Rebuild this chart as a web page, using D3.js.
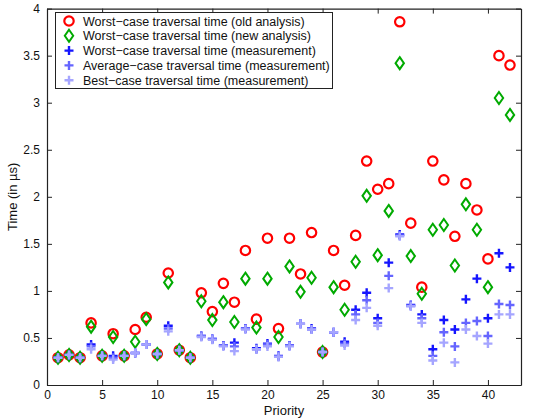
<!DOCTYPE html>
<html>
<head>
<meta charset="utf-8">
<script src="https://cdn.jsdelivr.net/npm/d3@7"></script>
<style>
  body { margin: 0; background: #fff; }
  svg text { font-family: "Liberation Sans", Arial, sans-serif; fill: #111; }
</style>
</head>
<body>
<div id="chart"></div>
<script>
// priorities 1..42
const priorities = d3.range(1, 43);

const oldAnalysis = [0.29, 0.32, 0.29, 0.66, 0.31, 0.545, 0.31, 0.59, 0.72, 0.33,
  1.19, 0.37, 0.29, 0.98, 0.78, 1.08, 0.88, 1.43, 0.70, 1.56,
  0.60, 1.56, 1.18, 1.62, 0.35, 1.43, 1.06, 1.59, 2.38, 2.08,
  2.14, 3.86, 1.72, 1.04, 2.38, 2.18, 1.58, 2.14, 1.86, 1.34,
  3.50, 3.40];

const newAnalysis = [0.29, 0.32, 0.29, 0.62, 0.31, 0.51, 0.31, 0.46, 0.70, 0.33,
  1.09, 0.37, 0.29, 0.89, 0.69, 0.88, 0.67, 1.13, 0.61, 1.13,
  0.51, 1.26, 0.99, 1.14, 0.35, 1.04, 0.80, 1.31, 2.01, 1.38,
  1.85, 3.42, 1.37, 0.97, 1.65, 1.70, 1.27, 1.92, 1.65, 1.04,
  3.05, 2.87];

const worstMeas = [0.29, 0.32, 0.29, 0.43, 0.31, 0.31, 0.31, 0.34, 0.43, 0.33,
  0.63, 0.37, 0.29, 0.52, 0.49, 0.42, 0.45, 0.60, 0.39, 0.44,
  0.31, 0.42, 0.65, 0.60, 0.35, 0.56, 0.46, 0.80, 0.98, 0.71,
  1.30, 1.60, 0.85, 0.75, 0.38, 0.69, 0.59, 0.91, 1.13, 0.71,
  1.40, 1.25];

const avgMeas = [0.29, 0.32, 0.29, 0.41, 0.31, 0.29, 0.31, 0.34, 0.43, 0.33,
  0.60, 0.37, 0.29, 0.52, 0.49, 0.42, 0.41, 0.60, 0.38, 0.43,
  0.30, 0.42, 0.65, 0.59, 0.35, 0.56, 0.44, 0.75, 0.90, 0.66,
  1.16, 1.59, 0.84, 0.71, 0.31, 0.56, 0.41, 0.66, 0.68, 0.52,
  0.86, 0.85];

const bestMeas = [0.29, 0.32, 0.29, 0.38, 0.31, 0.27, 0.31, 0.34, 0.43, 0.33,
  0.57, 0.37, 0.29, 0.51, 0.48, 0.41, 0.36, 0.59, 0.38, 0.41,
  0.30, 0.41, 0.65, 0.59, 0.35, 0.56, 0.42, 0.69, 0.82, 0.63,
  1.03, 1.58, 0.84, 0.66, 0.26, 0.45, 0.24, 0.59, 0.52, 0.44,
  0.75, 0.75];

const xTicks = [0, 5, 10, 15, 20, 25, 30, 35, 40];
const yTicks = [0, 0.5, 1, 1.5, 2, 2.5, 3, 3.5, 4];

const series = [
  { name: 'Worst\u2212case traversal time (old analysis)', values: oldAnalysis, shape: 'circle', color: '#ff0000' },
  { name: 'Worst\u2212case traversal time (new analysis)', values: newAnalysis, shape: 'diamond', color: '#00aa00' },
  { name: 'Worst\u2212case traversal time (measurement)', values: worstMeas, shape: 'plus', color: '#1515ff' },
  { name: 'Average\u2212case traversal time (measurement)', values: avgMeas, shape: 'plus', color: '#6565ff' },
  { name: 'Best\u2212case traversal time (measurement)', values: bestMeas, shape: 'plus', color: '#a5a5ff' }
];

const width = 557, height = 418;
const margin = { top: 8.6, right: 36, bottom: 33, left: 47 };

const svg = d3.select('#chart').append('svg').attr('width', width).attr('height', height);

const x = d3.scaleLinear().domain([0, 43]).range([margin.left, width - margin.right]);
const y = d3.scaleLinear().domain([0, 4]).range([height - margin.bottom, margin.top]);

// axes with inward ticks on all four sides
const tickLen = 5;
svg.append('g').attr('transform', `translate(0,${y(0)})`)
  .call(d3.axisBottom(x).tickValues(xTicks).tickSizeInner(-tickLen).tickSizeOuter(0).tickPadding(5));
svg.append('g').attr('transform', `translate(0,${y(4)})`)
  .call(d3.axisTop(x).tickValues(xTicks).tickSizeInner(-tickLen).tickSizeOuter(0).tickFormat(''));
svg.append('g').attr('transform', `translate(${x(0)},0)`)
  .call(d3.axisLeft(y).tickValues(yTicks).tickSizeInner(-tickLen).tickSizeOuter(0).tickPadding(7).tickFormat(d3.format('~g')));
svg.append('g').attr('transform', `translate(${x(43)},0)`)
  .call(d3.axisRight(y).tickValues(yTicks).tickSizeInner(-tickLen).tickSizeOuter(0).tickFormat(''));

svg.selectAll('.domain').attr('stroke', '#222').attr('stroke-width', 1.2);
svg.selectAll('.tick line').attr('stroke', '#222');
svg.selectAll('.tick text').style('font-size', '12px').attr('fill', '#111');

svg.append('text').attr('x', (x(0) + x(43)) / 2).attr('y', 415)
  .attr('text-anchor', 'middle').style('font-size', '13px').text('Priority');
svg.append('text')
  .attr('transform', `translate(17,${(y(0) + y(4)) / 2}) rotate(-90)`)
  .attr('text-anchor', 'middle').style('font-size', '13px').text('Time (in \u00b5s)');

function drawMarker(g, shape, color) {
  if (shape === 'circle') {
    g.append('circle').attr('r', 4.7).attr('fill', 'none').attr('stroke', color).attr('stroke-width', 2.2);
  } else if (shape === 'diamond') {
    g.append('path').attr('d', 'M0,-6L4.2,0L0,6L-4.2,0Z')
      .attr('fill', 'none').attr('stroke', color).attr('stroke-width', 2);
  } else {
    g.append('path').attr('d', 'M-4.5,0H4.5M0,-4.5V4.5')
      .attr('fill', 'none').attr('stroke', color).attr('stroke-width', 2.4);
  }
}

series.forEach((s) => {
  const g = svg.append('g');
  priorities.forEach((p, i) => {
    const m = g.append('g').attr('transform', `translate(${x(p)},${y(s.values[i])})`);
    drawMarker(m, s.shape, s.color);
  });
});

// legend
const legend = svg.append('g');
legend.append('rect').attr('x', 55.5).attr('y', 12.5).attr('width', 277).attr('height', 76)
  .attr('fill', '#fff').attr('stroke', '#222').attr('stroke-width', 1);
series.forEach((s, i) => {
  const ly = 21 + i * 14.8;
  const m = legend.append('g').attr('transform', `translate(69,${ly})`);
  drawMarker(m, s.shape, s.color);
  legend.append('text').attr('x', 83).attr('y', ly + 4.5).style('font-size', '12.5px').text(s.name);
});
</script>
</body>
</html>
